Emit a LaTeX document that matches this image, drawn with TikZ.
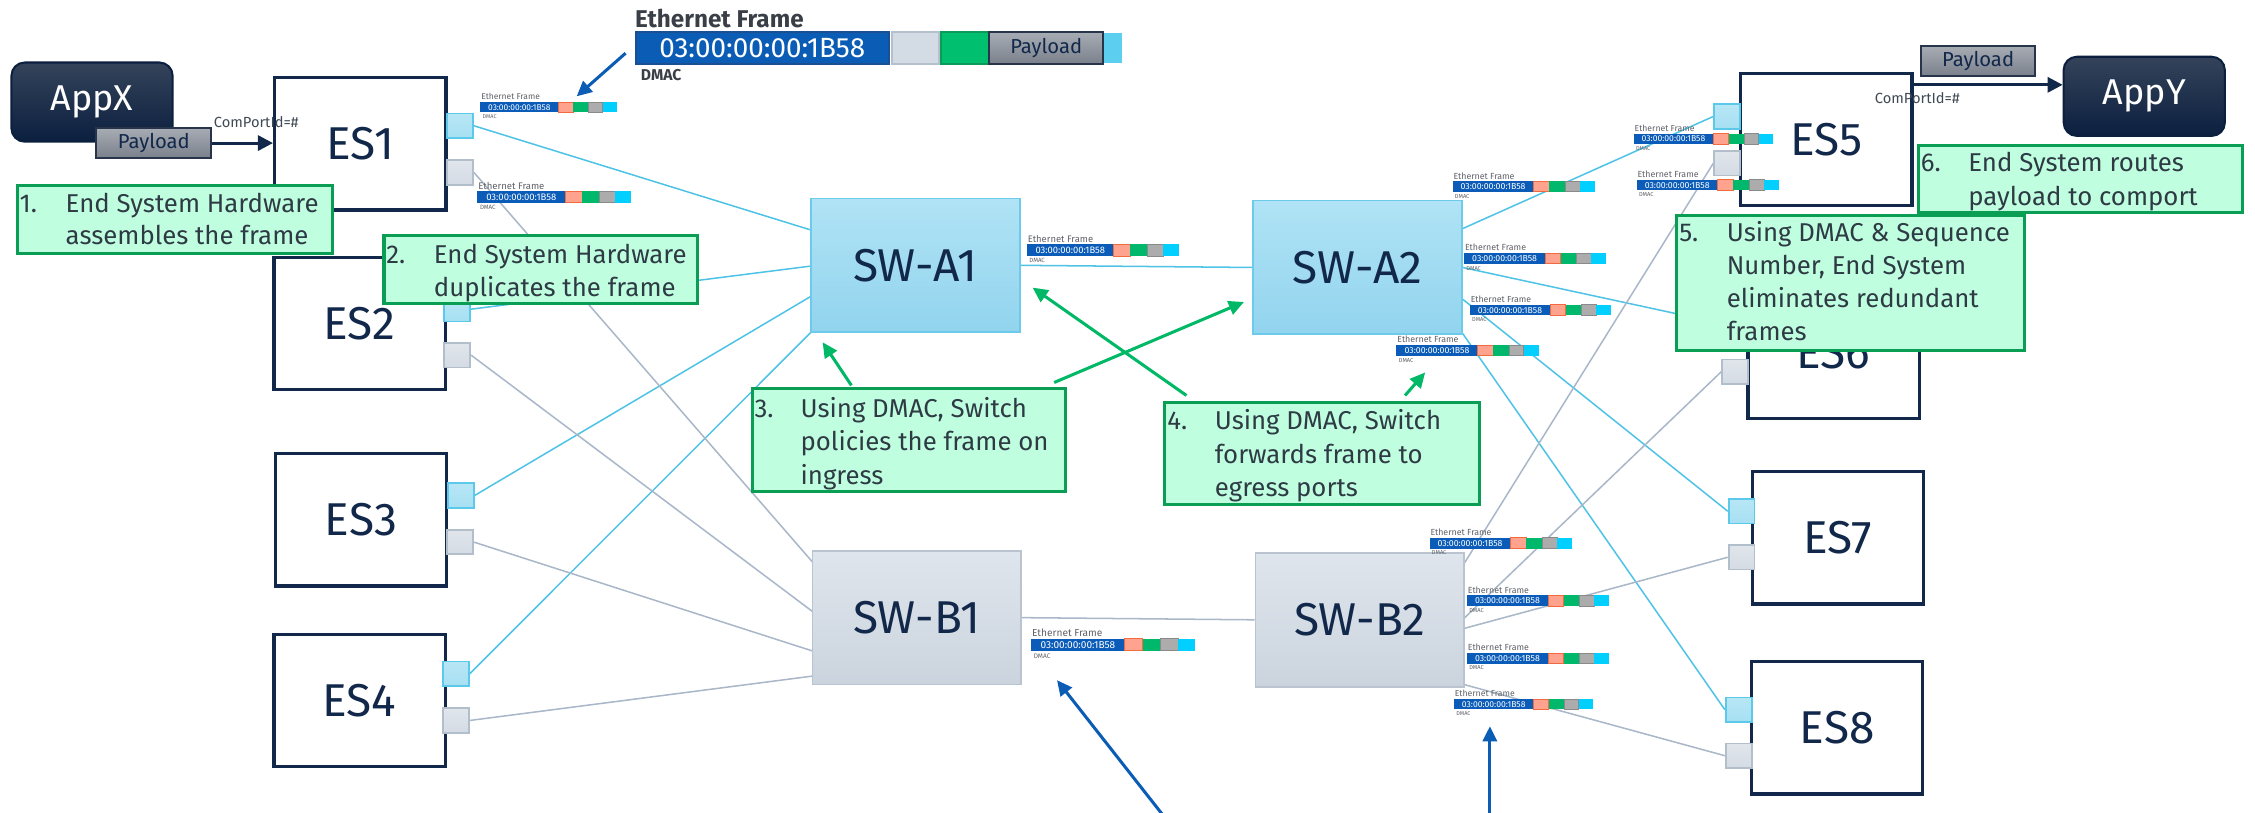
\documentclass[tikz,border=0pt]{standalone}
\usepackage{fontspec}
\setmainfont{Fira Sans}
\usetikzlibrary{arrows.meta,fit}

\definecolor{navy}{HTML}{12284A}
\definecolor{apptop}{HTML}{34435A}
\definecolor{appbot}{HTML}{0B1F3F}
\definecolor{portbfill}{HTML}{A6E0F3}
\definecolor{portbdraw}{HTML}{5CC8EA}
\definecolor{portgfill}{HTML}{D4DBE4}
\definecolor{portgdraw}{HTML}{B3BECB}
\definecolor{swatop}{HTML}{B0E3F5}
\definecolor{swabot}{HTML}{92D4EE}
\definecolor{swadraw}{HTML}{6CCBEA}
\definecolor{swbtop}{HTML}{DFE5EC}
\definecolor{swbbot}{HTML}{CBD4DE}
\definecolor{swbdraw}{HTML}{B9C4D0}
\definecolor{linea}{HTML}{4FC3E6}
\definecolor{lineb}{HTML}{A9B7C8}
\definecolor{lblfill}{HTML}{BFFFE0}
\definecolor{lbldraw}{HTML}{0A9E55}
\definecolor{lbltext}{HTML}{2E3A44}
\definecolor{garrow}{HTML}{00B865}
\definecolor{barrow}{HTML}{0A5CB5}
\definecolor{mfblue}{HTML}{0A5CB8}
\definecolor{mfsalmon}{HTML}{FFA38F}
\definecolor{mfsalmond}{HTML}{F26A3E}
\definecolor{mfgreen}{HTML}{00B86B}
\definecolor{mfgray}{HTML}{ACACAC}
\definecolor{mfgrayd}{HTML}{8A8A8A}
\definecolor{mfcyan}{HTML}{00CFFF}
\definecolor{paytop}{HTML}{A7ACB4}
\definecolor{paybot}{HTML}{7A808B}
\definecolor{paydraw}{HTML}{27344A}
\definecolor{titlegray}{HTML}{3A3F47}
\definecolor{minigray}{HTML}{5E6066}
\definecolor{bigblue}{HTML}{0A5CB5}
\definecolor{bigblued}{HTML}{1A4F94}
\definecolor{biglg}{HTML}{D3DBE4}
\definecolor{biglgd}{HTML}{B4C0CD}
\definecolor{biggreen}{HTML}{00C070}
\definecolor{biggreend}{HTML}{0C9A58}
\definecolor{bigcyan}{HTML}{5CCFF0}
\definecolor{cptext}{HTML}{404A55}

\newcommand{\fsz}[1]{\fontsize{#1pt}{#1pt}\selectfont}

\newcommand{\mframe}[4]{%
 \pgfmathsetmacro{\mfh}{0.075*#4}%
 \pgfmathsetmacro{\mfa}{#2+0.57*#4}%
 \pgfmathsetmacro{\mfb}{#2+0.68*#4}%
 \pgfmathsetmacro{\mfc}{#2+0.79*#4}%
 \pgfmathsetmacro{\mfd}{#2+0.895*#4}%
 \pgfmathsetmacro{\mfe}{#2+#4}%
 \pgfmathsetmacro{\mfy}{#3+\mfh}%
 \pgfmathsetmacro{\mfmid}{#3+\mfh/2}%
 \pgfmathsetmacro{\mfcx}{(#2+\mfa)/2}%
 \pgfmathsetmacro{\mfty}{#3-1.5}%
 \pgfmathsetmacro{\mfdy}{\mfy+0.045*#4}%
 \pgfmathsetmacro{\mfdx}{#2+0.01*#4}%
 \pgfmathsetmacro{\mft}{0.01764*#4}%
 \pgfmathsetmacro{\mfv}{0.0175*#4}%
 \pgfmathsetmacro{\mfs}{0.0114*#4}%
 \fill[mfblue] (#2,#3) rectangle (\mfa,\mfy);
 \filldraw[fill=mfsalmon,draw=mfsalmond,line width=0.15pt] (\mfa,#3) rectangle (\mfb,\mfy);
 \fill[mfgreen] (\mfb,#3) rectangle (\mfc,\mfy);
 \filldraw[fill=mfgray,draw=mfgrayd,line width=0.15pt] (\mfc,#3) rectangle (\mfd,\mfy);
 \fill[mfcyan] (\mfd,#3) rectangle (\mfe,\mfy);
 \node[anchor=base west,inner sep=0,text=minigray,font=\fsz{\mft}] (#1-t) at (#2,\mfty) {Ethernet Frame};
 \node[inner sep=0,text=white,font=\fsz{\mfv}] (#1-v) at (\mfcx,\mfmid) {03:00:00:00:1B58};
 \node[anchor=base west,inner sep=0,text=minigray,font=\fsz{\mfs}] (#1-d) at (\mfdx,\mfdy) {DMAC};
}

\begin{document}
\begin{tikzpicture}[x=0.01cm,y=-0.01cm,
  es/.style={draw=navy,line width=0.65pt,fill=white,minimum width=1.19cm,minimum height=0.92cm,inner sep=0,text=navy,font=\fsz{9.1}},
  portb/.style={draw=portbdraw,line width=0.35pt,top color=portbfill!80!white,bottom color=portbfill,minimum width=0.18cm,minimum height=0.17cm,inner sep=0},
  portg/.style={draw=portgdraw,line width=0.35pt,top color=portgfill!70!white,bottom color=portgfill,minimum width=0.18cm,minimum height=0.17cm,inner sep=0},
  swa/.style={draw=swadraw,line width=0.35pt,top color=swatop,bottom color=swabot,minimum width=1.45cm,minimum height=0.93cm,inner sep=0,text=navy,font=\fsz{9.1}},
  swb/.style={draw=swbdraw,line width=0.35pt,top color=swbtop,bottom color=swbbot,minimum width=1.45cm,minimum height=0.93cm,inner sep=0,text=navy,font=\fsz{9.1}},
  app/.style={draw=appbot,rounded corners=2.6pt,top color=apptop,bottom color=appbot,minimum width=1.12cm,minimum height=0.55cm,inner sep=0,text=white,font=\fsz{7.1}},
  paybox/.style={draw=paydraw,line width=0.4pt,top color=paytop,bottom color=paybot,minimum width=0.8cm,minimum height=0.21cm,inner sep=0,text=navy,font=\fsz{4.0}},
  la/.style={draw=linea,line width=0.3pt},
  lb/.style={draw=lineb,line width=0.3pt},
  lbl/.style={draw=lbldraw,line width=0.6pt,fill=lblfill,inner sep=0},
  ltxt/.style={anchor=base west,inner sep=0,text=lbltext,font=\fsz{5.1}},
  garr/.style={draw=garrow,line width=0.6pt,-{Triangle[length=3pt,width=2.8pt]}},
  barr/.style={draw=barrow,line width=0.6pt,-{Triangle[length=3pt,width=2.8pt]}},
  narr/.style={draw=navy,line width=0.6pt,-{Triangle[length=3pt,width=3pt]}},
  cptxt/.style={inner sep=0,text=cptext,font=\fsz{2.9}}
]
\useasboundingbox (0,0) rectangle (1568,565);

% ---------- switch-side coordinates ----------
\coordinate (a1w1) at (564,160);
\coordinate (a1w2) at (564,185);
\coordinate (a1w3) at (564,206);
\coordinate (a1w4) at (565,230);
\coordinate (a2e1) at (1017,159);
\coordinate (a2e2) at (1017,186);
\coordinate (a2e3) at (1017,208);
\coordinate (a2e4) at (1015,229);
\coordinate (b1w1) at (566,392);
\coordinate (b1w2) at (566,426);
\coordinate (b1w3) at (566,453);
\coordinate (b1w4) at (566,470);
\coordinate (b2e1) at (1018,392);
\coordinate (b2e2) at (1018,430);
\coordinate (b2e3) at (1018,437);
\coordinate (b2e4) at (1018,476);

% ---------- ports (defined first for connectors) ----------
\node[portb] (es1b) at (320,87.5) {};
\node[portg] (es1g) at (320,120) {};
\node[portb] (es2b) at (318,215) {};
\node[portg] (es2g) at (318,247) {};
\node[portb] (es3b) at (320.5,344.5) {};
\node[portg] (es3g) at (320,377) {};
\node[portb] (es4b) at (317,468.5) {};
\node[portg] (es4g) at (317,501) {};
\node[portb] (es5b) at (1201,81) {};
\node[portg] (es5g) at (1201,113.5) {};
\node[portb] (es6b) at (1207,225) {};
\node[portg] (es6g) at (1206.5,258.5) {};
\node[portb] (es7b) at (1211,355.5) {};
\node[portg] (es7g) at (1211,387.5) {};
\node[portb] (es8b) at (1209,493.5) {};
\node[portg] (es8g) at (1209,525.5) {};

% ---------- switches ----------
\node[swa] (swa1) at (636.5,184.5) {SW-A1};
\node[swa] (swa2) at (944,186) {SW-A2};
\node[swb] (swb1) at (637.5,429.5) {SW-B1};
\node[swb] (swb2) at (945.5,431) {SW-B2};

% ---------- network links ----------
\draw[la] (es1b.east) -- (a1w1);
\draw[la] (es2b.east) -- (a1w2);
\draw[la] (es3b.east) -- (a1w3);
\draw[la] (es4b.east) -- (a1w4);
\draw[la] (swa1.east) -- (swa2.west);
\draw[la] (a2e1) -- (es5b.west);
\draw[la] (a2e2) -- (es6b.west);
\draw[la] (a2e3) -- (es7b.west);
\draw[la] (a2e4) -- (es8b.west);
\draw[lb] (es1g.east) -- (b1w1);
\draw[lb] (es2g.east) -- (b1w2);
\draw[lb] (es3g.east) -- (b1w3);
\draw[lb] (es4g.east) -- (b1w4);
\draw[lb] (swb1.east) -- (swb2.west);
\draw[lb] (b2e1) -- (es5g.west);
\draw[lb] (b2e2) -- (es6g.west);
\draw[lb] (b2e3) -- (es7g.west);
\draw[lb] (b2e4) -- (es8g.west);

% redraw switches over link ends
\node[swa] at (swa1) {SW-A1};
\node[swa] at (swa2) {SW-A2};
\node[swb] at (swb1) {SW-B1};
\node[swb] at (swb2) {SW-B2};

% ---------- end systems ----------
\node[es] (es1) at (250.5,100) {ES1};
\node[es] (es2) at (250,225) {ES2};
\node[es] (es3) at (251,361.5) {ES3};
\node[es] (es4) at (250,487) {ES4};
\node[es] (es5) at (1270,97) {ES5};
\node[es] (es6) at (1275,245) {ES6};
\node[es] (es7) at (1278,374) {ES7};
\node[es] (es8) at (1277.5,506) {ES8};

% ports on top of boxes
\foreach \p in {es1b,es2b,es3b,es4b,es5b,es6b,es7b,es8b}{\node[portb] at (\p) {};}
\foreach \p in {es1g,es2g,es3g,es4g,es5g,es6g,es7g,es8g}{\node[portg] at (\p) {};}

% ---------- mini frames ----------
\mframe{m1}{334}{71}{95}
\mframe{m2}{332}{133}{107}
\mframe{m3}{714}{170}{106}
\mframe{m4}{1010}{126}{99}
\mframe{m5}{1018}{176}{99}
\mframe{m6}{1022}{212}{98}
\mframe{m7}{971}{240}{99}
\mframe{m8}{1136}{93}{97}
\mframe{m9}{1138}{125}{99}
\mframe{m10}{717}{444}{114}
\mframe{m11}{994}{374}{99}
\mframe{m12}{1020}{414}{99}
\mframe{m13}{1020}{454}{99}
\mframe{m14}{1011}{486}{97}

% ---------- big Ethernet frame ----------
\node[anchor=base west,inner sep=0,text=titlegray,font=\bfseries\fsz{4.8}] (bigt) at (441,19) {Ethernet Frame};
\node[draw=bigblued,line width=0.4pt,fill=bigblue,minimum width=1.76cm,minimum height=0.225cm,inner sep=0,text=white,font=\fsz{5.5}] (bigdmac) at (530,33.5) {03:00:00:00:1B58};
\node[draw=biglgd,line width=0.4pt,fill=biglg,minimum width=0.33cm,minimum height=0.225cm,inner sep=0] (biglg) at (636.5,33.5) {};
\node[draw=biggreend,line width=0.4pt,fill=biggreen,minimum width=0.34cm,minimum height=0.225cm,inner sep=0] (biggr) at (671,33.5) {};
\node[paybox,minimum width=0.79cm,minimum height=0.225cm] (bigpay) at (727.5,33.5) {Payload};
\node[fill=bigcyan,minimum width=0.12cm,minimum height=0.21cm,inner sep=0] (bigcy) at (774,33.5) {};
\node[anchor=base west,inner sep=0,text=titlegray,font=\bfseries\fsz{3.1}] (bigd) at (445,56) {DMAC};

% ---------- apps and payloads ----------
\node[app] (appx) at (64,71) {AppX};
\node[paybox] (payl) at (107,99.5) {Payload};
\draw[narr] (payl.east) -- (payl.east -| es1.west);
\node[cptxt,anchor=west] (cpl) at (148,85) {ComPortId=\#};

\node[app] (appy) at (1491,67) {AppY};
\node[paybox,minimum width=0.79cm] (payr) at (1375.5,42.5) {Payload};
\coordinate (es5out) at (1329,59);
\draw[narr] (es5out) -- (es5out -| appy.west);
\node[cptxt,anchor=west] (cpr) at (1303,68) {ComPortId=\#};

% ---------- labels ----------
\node[lbl,fit={(12,129) (231,176)}] (l1) {};
\node[ltxt] (l1n) at (13,148) {1.};
\node[ltxt] (l1a) at (45,148) {End System Hardware};
\node[ltxt] (l1b) at (45,170) {assembles the frame};

\node[lbl,fit={(267,164) (485,211)}] (l2) {};
\node[ltxt] (l2n) at (268,183) {2.};
\node[ltxt] (l2a) at (301,183) {End System Hardware};
\node[ltxt] (l2b) at (301,206) {duplicates the frame};

\node[lbl,fit={(523,270) (741,342)}] (l3) {};
\node[ltxt] (l3n) at (524,290) {3.};
\node[ltxt] (l3a) at (556,290) {Using DMAC, Switch};
\node[ltxt] (l3b) at (556,313) {policies the frame on};
\node[ltxt] (l3c) at (556,337) {ingress};

\node[lbl,fit={(810,280) (1029,351)}] (l4) {};
\node[ltxt] (l4n) at (811,299) {4.};
\node[ltxt] (l4a) at (844,299) {Using DMAC, Switch};
\node[ltxt] (l4b) at (844,322) {forwards frame to};
\node[ltxt] (l4c) at (844,345) {egress ports};

\node[lbl,fit={(1166,150) (1408,244)}] (l5) {};
\node[ltxt] (l5n) at (1167,168) {5.};
\node[ltxt] (l5a) at (1200,168) {Using DMAC \& Sequence};
\node[ltxt] (l5b) at (1200,191) {Number, End System};
\node[ltxt] (l5c) at (1200,214) {eliminates redundant};
\node[ltxt] (l5d) at (1200,237) {frames};

\node[lbl,fit={(1334,101) (1559,148)}] (l6) {};
\node[ltxt] (l6n) at (1335,119.5) {6.};
\node[ltxt] (l6a) at (1368,119.5) {End System routes};
\node[ltxt] (l6b) at (1368,143) {payload to comport};

% ---------- green arrows ----------
\coordinate (g1s) at (592,268);
\coordinate (g1e) at (572,238);
\coordinate (g2s) at (733,266);
\coordinate (g2e) at (865,210);
\coordinate (g3s) at (825,275);
\coordinate (g3e) at (718,200);
\coordinate (g4s) at (977,275);
\coordinate (g4e) at (991,259);
\draw[garr] (g1s) -- (g1e);
\draw[garr] (g2s) -- (g2e);
\draw[garr] (g3s) -- (g3e);
\draw[garr] (g4s) -- (g4e);

% ---------- blue arrows ----------
\coordinate (b0s) at (435,37);
\coordinate (b0e) at (401,67);
\coordinate (b1s) at (808,566);
\coordinate (b1e) at (735,473);
\coordinate (b2s) at (1036,566);
\coordinate (b2e) at (1036,505);
\draw[barr] (b0s) -- (b0e);
\draw[barr] (b1s) -- (b1e);
\draw[barr] (b2s) -- (b2e);
\end{tikzpicture}
\end{document}
